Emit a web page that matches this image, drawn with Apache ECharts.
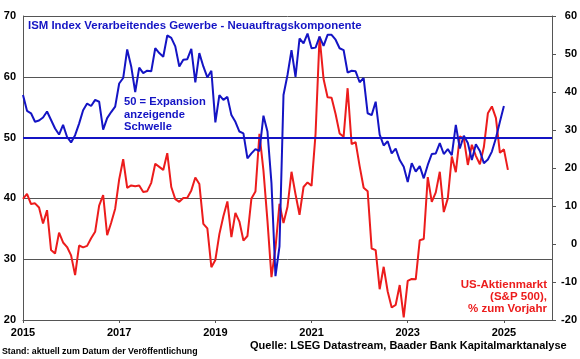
<!DOCTYPE html>
<html>
<head>
<meta charset="utf-8">
<script src="https://cdn.jsdelivr.net/npm/echarts@6/dist/echarts.min.js"></script>
<style>
html,body{margin:0;padding:0;background:#fff;}
#chart{width:580px;height:359px;}
</style>
</head>
<body>
<div id="chart"></div>
<script>
// Monthly data, Jan 2015 onward
const startYear = 2015;
const xTickLabels = ['2015', '2017', '2019', '2021', '2023', '2025'];
const xTickMonths = [0, 24, 48, 72, 96, 120];

// ISM Manufacturing, New Orders (left axis), Jan 2015 - Jan 2025
const ismNewOrders = [
  57.0, 54.4, 54.0, 52.6, 52.8, 53.3, 54.3, 52.9, 51.5, 50.5, 52.1, 50.1,
  49.2, 50.4, 52.3, 54.5, 55.6, 55.2, 56.2, 55.9, 51.3, 53.2, 54.2, 55.1,
  58.9, 59.8, 64.5, 61.7, 57.5, 61.5, 60.6, 61.0, 60.9, 64.7, 63.9, 63.3,
  66.8, 66.4, 65.0, 61.7, 62.8, 62.9, 64.6, 59.1, 63.9, 61.7, 59.9, 61.0,
  52.5, 57.0, 56.2, 56.7, 53.7, 52.6, 51.0, 50.7, 46.6, 47.4, 48.1, 47.8,
  53.6, 51.0, 42.5, 27.2, 32.1, 57.0, 60.3, 64.4, 60.0, 66.3, 65.5, 67.1,
  64.7, 64.8, 66.6, 65.1, 66.9, 66.9, 66.1, 64.7, 64.4, 60.7, 61.0, 60.9,
  59.1, 59.8, 54.0, 53.7, 55.9, 50.5, 48.7, 49.4, 47.4, 48.2, 46.3, 45.2,
  42.7, 45.8, 44.4, 45.3, 43.3, 45.5, 47.3, 47.4, 49.1, 47.3, 48.1, 47.1,
  52.1, 48.2, 50.3, 49.1, 46.3, 48.9, 47.8, 45.8, 46.4, 47.7, 49.9, 52.6,
  55.2
];

// US equity market (S&P 500), % y/y (right axis), Jan 2015 - Feb 2025
const sp500YoY = [
  11.9, 13.2, 10.5, 10.7, 9.6, 5.4, 8.9, -1.6, -2.5, 3.0, 0.4, -0.8,
  -3.0, -8.2, -0.4, -0.9, -0.5, 1.5, 3.2, 10.1, 12.9, 2.3, 5.6, 9.3,
  17.0, 22.3, 14.8, 15.4, 15.2, 15.4, 13.7, 13.9, 16.1, 21.1, 20.3, 19.5,
  23.9, 15.0, 11.8, 11.1, 12.1, 12.2, 14.1, 17.5, 15.8, 5.3, 4.1, -6.1,
  -4.2, 2.6, 7.3, 11.2, 1.8, 8.2, 5.9, 0.9, 2.1, 12.0, 13.8, 29.0,
  19.3, 6.1, -8.7, -1.1, 10.6, 5.5, 9.8, 19.0, 13.1, 7.7, 15.0, 16.2,
  15.3, 29.0, 54.6, 43.4, 38.6, 38.5, 34.2, 29.1, 28.2, 41.0, 26.3, 26.8,
  20.5, 14.8, 13.9, -1.2, -1.6, -11.9, -6.0, -12.5, -16.7, -16.0, -10.8, -19.3,
  -9.7, -9.2, -9.3, 1.0, 1.3, 17.6, 11.1, 13.6, 19.0, 8.4, 12.0, 23.0,
  18.9, 28.3, 27.8, 20.8, 26.1, 23.2, 21.0, 25.5, 34.4, 36.2, 33.2, 24.0,
  24.9, 19.5
];

const thresholdValue = 50;

const titleText = 'ISM Index Verarbeitendes Gewerbe - Neuauftragskomponente';
const thresholdText = '50 = Expansion\nanzeigende\nSchwelle';
const redText = 'US-Aktienmarkt\n(S&P 500),\n% zum Vorjahr';
const noteText = 'Stand: aktuell zum Datum der Veröffentlichung';
const sourceText = 'Quelle: LSEG Datastream, Baader Bank Kapitalmarktanalyse';

const BLUE = '#1414c4';
const RED = '#ec1c1c';
const GRID = '#555555';
const FONT = 'Arial, "Liberation Sans", sans-serif';

const chart = echarts.init(document.getElementById('chart'), null, {renderer: 'canvas'});

const option = {
  animation: false,
  backgroundColor: '#ffffff',
  grid: {left: 23, right: 27, top: 16, bottom: 39, show: false},
  xAxis: {
    type: 'value',
    min: 0,
    max: 132,
    axisLine: {show: true, onZero: false, lineStyle: {color: GRID, width: 1}},
    axisTick: {show: true, length: 3, inside: false, customValues: xTickMonths, lineStyle: {color: GRID}},
    axisLabel: {
      customValues: xTickMonths,
      formatter: v => xTickLabels[xTickMonths.indexOf(v)] || '',
      color: '#000', fontWeight: 'bold', fontSize: 11, fontFamily: FONT, margin: 7
    },
    splitLine: {show: false}
  },
  yAxis: [
    {
      type: 'value', min: 20, max: 70, interval: 10, position: 'left',
      axisLine: {show: true, lineStyle: {color: GRID, width: 1}},
      axisTick: {show: false},
      axisLabel: {color: '#000', fontWeight: 'bold', fontSize: 11, fontFamily: FONT, margin: 7},
      splitLine: {show: true, lineStyle: {color: GRID, width: 1}}
    },
    {
      type: 'value', min: -20, max: 60, interval: 10, position: 'right',
      axisLine: {show: true, lineStyle: {color: GRID, width: 1}},
      axisTick: {show: true, length: 4, inside: false, lineStyle: {color: GRID}},
      axisLabel: {color: '#000', fontWeight: 'bold', fontSize: 11, fontFamily: FONT, margin: 25, align: 'right'},
      splitLine: {show: false}
    }
  ],
  series: [
    {
      name: 'S&P 500',
      type: 'line',
      yAxisIndex: 1,
      data: sp500YoY.map((v, i) => [i, v]),
      showSymbol: false,
      symbol: 'none',
      lineStyle: {color: RED, width: 2},
      z: 2
    },
    {
      name: 'ISM',
      type: 'line',
      yAxisIndex: 0,
      data: ismNewOrders.map((v, i) => [i, v]),
      showSymbol: false,
      symbol: 'none',
      lineStyle: {color: BLUE, width: 2},
      z: 3,
      markLine: {
        silent: true,
        symbol: ['none', 'none'],
        label: {show: false},
        lineStyle: {color: BLUE, width: 2, type: 'solid'},
        data: [{yAxis: thresholdValue}]
      }
    }
  ],
  graphic: [
    {
      type: 'text', x: 28, y: 20,
      style: {text: titleText, fill: BLUE, font: 'bold 11.4px ' + FONT}
    },
    {
      type: 'text', x: 124, y: 96,
      style: {text: thresholdText, fill: BLUE, font: 'bold 11.2px ' + FONT, lineHeight: 12.5}
    },
    {
      type: 'text', x: 547, y: 279,
      style: {text: redText, fill: RED, font: 'bold 11.5px ' + FONT, lineHeight: 12, align: 'right'}
    },
    {
      type: 'text', x: 2, y: 347,
      style: {text: noteText, fill: '#000', font: 'bold 8.8px ' + FONT}
    },
    {
      type: 'text', x: 250, y: 340,
      style: {text: sourceText, fill: '#000', font: 'bold 11px ' + FONT}
    }
  ]
};

chart.setOption(option);
</script>
</body>
</html>
